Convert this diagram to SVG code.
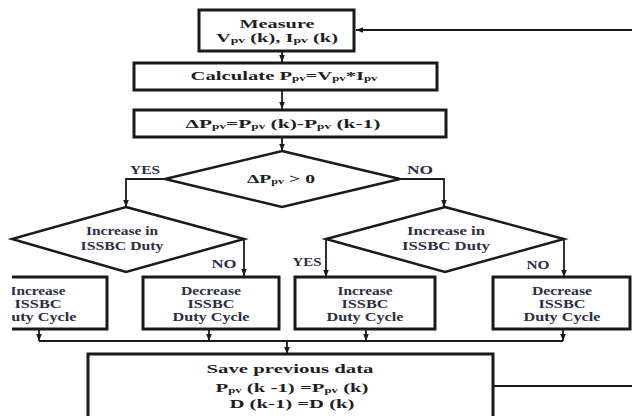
<svg xmlns="http://www.w3.org/2000/svg" width="632" height="416" viewBox="0 0 632 416">
<defs>
<style>
.box{fill:#fff;stroke:#1a1a1a;stroke-width:3}
.dia{fill:#fff;stroke:#1a1a1a;stroke-width:2.5}
.con{fill:none;stroke:#1a1a1a;stroke-width:1.8}
.t{font-family:"Liberation Serif","Times New Roman",serif;font-weight:bold;font-size:13px;fill:#1e1e24;text-anchor:middle}
.m{font-size:12px}
.s{font-family:"Liberation Serif","Times New Roman",serif;font-weight:bold;font-size:12px;fill:#2b2f45;text-anchor:middle}
.sub{font-size:8px}
</style>
<marker id="ah" viewBox="0 0 10 10" refX="10" refY="5" markerWidth="7" markerHeight="7" orient="auto" markerUnits="userSpaceOnUse">
<path d="M0,1 L10,5 L0,9 z" fill="#1a1a1a"/>
</marker>
<clipPath id="clipL"><rect x="12" y="0" width="620" height="416"/></clipPath>
</defs>
<rect width="632" height="416" fill="#fff"/>

<g id="connectors">
<path class="con" d="M282,52 V62" marker-end="url(#ah)"/>
<path class="con" d="M282,91 V109" marker-end="url(#ah)"/>
<path class="con" d="M282,138 V151" marker-end="url(#ah)"/>
<path class="con" d="M165,179 H126 V207" marker-end="url(#ah)"/>
<path class="con" d="M400,179 H444 V207" marker-end="url(#ah)"/>
<path class="con" d="M244,239 V276" marker-end="url(#ah)"/>
<path class="con" d="M326,239 V277" marker-end="url(#ah)"/>
<path class="con" d="M564,239 V277" marker-end="url(#ah)"/>
<path class="con" d="M39,329 V341" marker-end="url(#ah)"/>
<path class="con" d="M209,329 V341" marker-end="url(#ah)"/>
<path class="con" d="M366,329 V341" marker-end="url(#ah)"/>
<path class="con" d="M563,329 V341" marker-end="url(#ah)"/>
<path class="con" d="M39,341 H563"/>
<path class="con" d="M287,341 V354" marker-end="url(#ah)"/>
<path class="con" d="M493,386 H636 V30 H356" marker-end="url(#ah)"/>
<text class="s" x="145" y="174" textLength="30" lengthAdjust="spacingAndGlyphs">YES</text>
<text class="s" x="420" y="174" textLength="26" lengthAdjust="spacingAndGlyphs">NO</text>
<text class="s" x="224" y="268" textLength="25" lengthAdjust="spacingAndGlyphs">NO</text>
<text class="s" x="307" y="266" textLength="29" lengthAdjust="spacingAndGlyphs">YES</text>
<text class="s" x="538" y="269" textLength="23" lengthAdjust="spacingAndGlyphs">NO</text>
</g>

<g id="measure">
<rect class="box" x="199" y="10" width="155" height="41"/>
<text class="t m" x="277" y="28" textLength="75" lengthAdjust="spacingAndGlyphs">Measure</text>
<text class="t m" x="277" y="42" textLength="122" lengthAdjust="spacingAndGlyphs">V<tspan class="sub" dy="1">pv</tspan><tspan dy="-1"> (k), I</tspan><tspan class="sub" dy="1">pv</tspan><tspan dy="-1"> (k)</tspan></text>
</g>

<g id="calculate">
<rect class="box" x="134" y="63" width="303" height="27"/>
<text class="t" x="284" y="80" textLength="187" lengthAdjust="spacingAndGlyphs">Calculate P<tspan class="sub" dy="1">pv</tspan><tspan dy="-1">=V</tspan><tspan class="sub" dy="1">pv</tspan><tspan dy="-1">*I</tspan><tspan class="sub" dy="1">pv</tspan></text>
</g>

<g id="delta">
<rect class="box" x="134" y="110" width="312" height="27"/>
<text class="t" x="283" y="128" textLength="195" lengthAdjust="spacingAndGlyphs">ΔP<tspan class="sub" dy="1">pv</tspan><tspan dy="-1">=P</tspan><tspan class="sub" dy="1">pv</tspan><tspan dy="-1"> (k)-P</tspan><tspan class="sub" dy="1">pv</tspan><tspan dy="-1"> (k-1)</tspan></text>
</g>

<g id="decision1">
<polygon class="dia" points="282,151 400,179 282,207 165,179"/>
<text class="t" x="281" y="183" textLength="68" lengthAdjust="spacingAndGlyphs">ΔP<tspan class="sub" dy="1">pv</tspan><tspan dy="-1"> &gt; 0</tspan></text>
</g>

<g id="decision2">
<polygon class="dia" points="126,207 244,239 126,272 12,239"/>
<text class="s" x="122" y="235" textLength="72" lengthAdjust="spacingAndGlyphs">Increase in</text>
<text class="s" x="122" y="250" textLength="83" lengthAdjust="spacingAndGlyphs">ISSBC Duty</text>
</g>

<g id="decision3">
<polygon class="dia" points="445,207 564,239 445,272 326,239"/>
<text class="s" x="446" y="235" textLength="78" lengthAdjust="spacingAndGlyphs">Increase in</text>
<text class="s" x="446" y="250" textLength="88" lengthAdjust="spacingAndGlyphs">ISSBC Duty</text>
</g>

<g id="increase1" clip-path="url(#clipL)">
<rect class="box" x="-31" y="277" width="138" height="52"/>
<text class="s" x="38" y="295" textLength="55" lengthAdjust="spacingAndGlyphs">Increase</text>
<text class="s" x="38" y="308" textLength="47" lengthAdjust="spacingAndGlyphs">ISSBC</text>
<text class="s" x="38" y="321" textLength="77" lengthAdjust="spacingAndGlyphs">Duty Cycle</text>
</g>

<g id="decrease1">
<rect class="box" x="143" y="277" width="136" height="52"/>
<text class="s" x="211" y="295" textLength="60" lengthAdjust="spacingAndGlyphs">Decrease</text>
<text class="s" x="211" y="308" textLength="47" lengthAdjust="spacingAndGlyphs">ISSBC</text>
<text class="s" x="211" y="321" textLength="77" lengthAdjust="spacingAndGlyphs">Duty Cycle</text>
</g>

<g id="increase2">
<rect class="box" x="295" y="277" width="140" height="52"/>
<text class="s" x="365" y="295" textLength="55" lengthAdjust="spacingAndGlyphs">Increase</text>
<text class="s" x="365" y="308" textLength="47" lengthAdjust="spacingAndGlyphs">ISSBC</text>
<text class="s" x="365" y="321" textLength="77" lengthAdjust="spacingAndGlyphs">Duty Cycle</text>
</g>

<g id="decrease2">
<rect class="box" x="493" y="277" width="137" height="52"/>
<text class="s" x="562" y="295" textLength="60" lengthAdjust="spacingAndGlyphs">Decrease</text>
<text class="s" x="562" y="308" textLength="47" lengthAdjust="spacingAndGlyphs">ISSBC</text>
<text class="s" x="562" y="321" textLength="77" lengthAdjust="spacingAndGlyphs">Duty Cycle</text>
</g>

<g id="save">
<rect class="box" x="88" y="354" width="405" height="80"/>
<text class="t" x="290" y="373" textLength="167" lengthAdjust="spacingAndGlyphs">Save previous data</text>
<text class="t" x="292" y="392" textLength="153" lengthAdjust="spacingAndGlyphs">P<tspan class="sub" dy="1">pv</tspan><tspan dy="-1"> (k -1) =P</tspan><tspan class="sub" dy="1">pv</tspan><tspan dy="-1"> (k)</tspan></text>
<text class="t" x="292" y="408" textLength="125" lengthAdjust="spacingAndGlyphs">D (k-1) =D (k)</text>
</g>
</svg>
